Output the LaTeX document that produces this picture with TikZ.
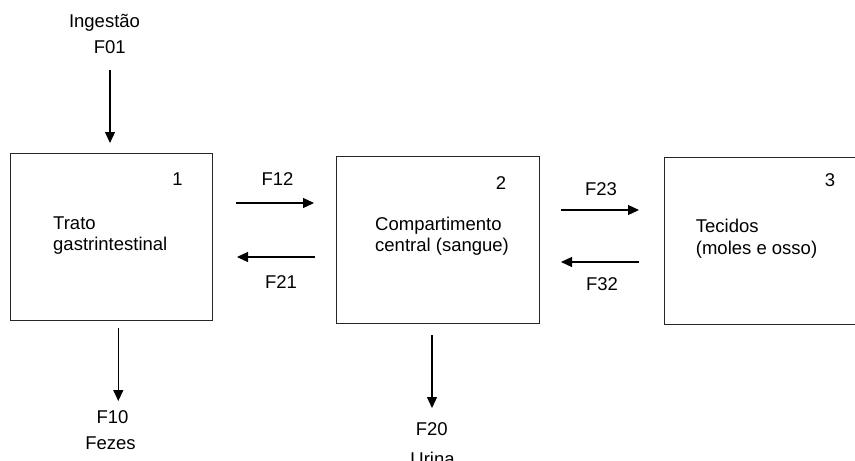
\documentclass[tikz,border=0pt]{standalone}
\usepackage{fontspec}
\setmainfont{Liberation Sans}
\usetikzlibrary{arrows.meta}
\begin{document}
\begin{tikzpicture}[x=1pt,y=-1pt,
  box/.style={draw=black!85, line width=1.2pt, inner sep=0pt, anchor=north west},
  arr/.style={draw=black, line width=1.2pt, -{Triangle[length=11pt,width=10pt]}},
  lbl/.style={inner sep=0pt, anchor=base, font=\fontsize{18.5}{21.5}\selectfont},
  btxt/.style={inner sep=0pt, anchor=north west, align=left, font=\fontsize{18.5}{21.5}\selectfont}]
\useasboundingbox (0,0) rectangle (855,461);
% boxes
\node[box, minimum width=202pt, minimum height=167pt] (b1) at (10,153) {};
\node[box, minimum width=203pt, minimum height=167pt] (b2) at (336,156) {};
\node[box, minimum width=210pt, minimum height=167pt] (b3) at (664,157) {};
% box texts
\node[lbl] (n1) at (177.5,185.7) {1};
\node[lbl] (n2) at (501,189) {2};
\node[lbl] (n3) at (830,186.7) {3};
\node[btxt] (t1) at (53,216.5) {Trato\\gastrintestinal};
\node[btxt] (t2) at (375,216.5) {Compartimento\\central (sangue)};
\node[btxt] (t3) at (695.7,219.3) {Tecidos\\(moles e osso)};
% labels
\node[lbl] (ing) at (104.5,27.3) {Ingestão};
\node[lbl] (f01) at (109.7,53.3) {F01};
\node[lbl] (f12) at (277.5,185) {F12};
\node[lbl] (f21) at (281,288) {F21};
\node[lbl] (f23) at (601,195) {F23};
\node[lbl] (f32) at (602,290.7) {F32};
\node[lbl] (f10) at (112.5,423.3) {F10};
\node[lbl] (fez) at (110.5,449.3) {Fezes};
\node[lbl] (f20) at (431.7,435) {F20};
\node[lbl] (uri) at (432.5,465) {Urina};
% arrow end points
\coordinate (a01s) at (110,70);   \coordinate (a01e) at (110,143);
\coordinate (a12s) at (236,203);  \coordinate (a12e) at (314,203);
\coordinate (a21s) at (315,257);  \coordinate (a21e) at (237,257);
\coordinate (a23s) at (561,210);  \coordinate (a23e) at (639,210);
\coordinate (a32s) at (639,262);  \coordinate (a32e) at (561,262);
\coordinate (a10s) at (118.3,328);\coordinate (a10e) at (118.3,401);
\coordinate (a20s) at (432,335);  \coordinate (a20e) at (432,408);
\draw[arr] (a01s) -- (a01e);
\draw[arr] (a12s) -- (a12e);
\draw[arr] (a21s) -- (a21e);
\draw[arr] (a23s) -- (a23e);
\draw[arr] (a32s) -- (a32e);
\draw[arr] (a10s) -- (a10e);
\draw[arr] (a20s) -- (a20e);
\end{tikzpicture}
\end{document}
